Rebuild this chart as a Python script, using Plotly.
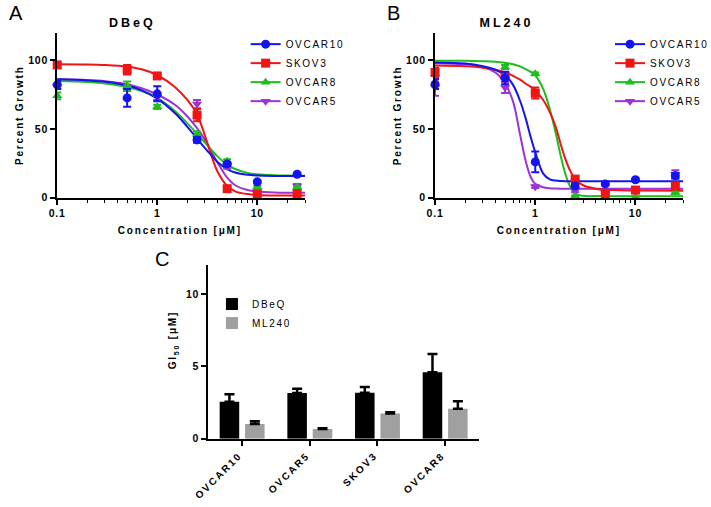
import plotly.graph_objects as go

FONT = "Liberation Sans, Arial, sans-serif"

# ---------------- data ----------------
cell_lines = ["OVCAR10", "SKOV3", "OVCAR8", "OVCAR5"]
colors = {"OVCAR10": "#1414F0", "SKOV3": "#F01414", "OVCAR8": "#1EBE1E", "OVCAR5": "#9B32DC"}
symbols = {"OVCAR10": "circle", "SKOV3": "square", "OVCAR8": "triangle-up", "OVCAR5": "triangle-down"}

conc = [0.1, 0.5, 1, 2.5, 5, 10, 25]

# Panel A (DBeQ) measured points (mean, sem)
dbeq_mean = {
    "OVCAR10": [82, 72.5, 75.5, 42, 24.5, 11.5, 17],
    "SKOV3":   [96.5, 93, 88.5, 60, 6.5, 2.5, 3],
    "OVCAR8":  [74, 81, 66, 46, 26.5, 7.5, 7.5],
    "OVCAR5":  [81, 80, 73, 68, 23, 5, 8.5],
}
dbeq_err = {
    "OVCAR10": [3, 6.5, 5.5, 2, 1.5, 1, 1],
    "SKOV3":   [2, 3.5, 1.5, 4.5, 1.5, 1, 1],
    "OVCAR8":  [2.5, 3.5, 1.5, 2, 1.5, 1, 1],
    "OVCAR5":  [2, 2, 2, 3, 2, 1, 1.5],
}
# Panel A fitted curves
fit_conc_A = [0.1, 0.2, 0.3, 0.5, 0.7, 1, 1.5, 2, 2.5, 3, 3.5, 4, 5, 6, 8, 10, 15, 20, 30]
dbeq_fit = {
    "OVCAR10": [86, 85.2, 84.3, 81.5, 78, 72, 61.5, 51.5, 43, 36, 30.5, 26, 20.8, 18.3, 16.6, 16.1, 15.8, 15.7, 15.7],
    "SKOV3":   [97, 96.8, 96.4, 95.2, 93.3, 89, 80.5, 71, 60.5, 45, 30, 19, 8.5, 4.6, 2.6, 2, 1.6, 1.5, 1.5],
    "OVCAR8":  [84.8, 84, 83, 80.5, 77.5, 72.5, 63, 54, 46.5, 40, 34.5, 30, 24, 20.8, 18, 17, 16.3, 16.1, 16],
    "OVCAR5":  [86, 85.5, 84.7, 82.5, 79.5, 75, 67.5, 59, 50.5, 42, 33, 25.5, 14.5, 9, 5.5, 4.5, 3.8, 3.6, 3.5],
}

# Panel B (ML240) measured points
ml240_mean = {
    "OVCAR10": [82.5, 87, 26, 8.5, 10, 13, 16],
    "SKOV3":   [91, 88.5, 76, 13.5, 2.5, 5.5, 8.5],
    "OVCAR8":  [90, 95, 90, 1, 0.5, 0.5, 3.5],
    "OVCAR5":  [80, 80, 8, 5, 3.5, 4.5, 17],
}
ml240_err = {
    "OVCAR10": [3.5, 4.5, 7.5, 1.5, 1, 1, 2],
    "SKOV3":   [3.5, 2, 4, 2, 1, 1.5, 1.5],
    "OVCAR8":  [1, 1.5, 1, 0.5, 0.5, 0.5, 0.5],
    "OVCAR5":  [6, 4, 1, 1, 1, 1, 3],
}
fit_conc_B = [0.1, 0.2, 0.3, 0.4, 0.5, 0.6, 0.7, 0.8, 0.9, 1, 1.2, 1.4, 1.6, 1.8, 2, 2.2, 2.5, 3, 4, 6, 10, 30]
ml240_fit = {
    "OVCAR10": [98.3, 97.5, 95.5, 93, 89, 82, 71, 58, 44, 33, 17.5, 13.3, 12.4, 12.1, 12, 12, 12, 12, 12, 12, 12, 12],
    "SKOV3":   [96, 95.5, 94.5, 93, 91, 88.5, 86, 83, 80.5, 78, 71, 62, 51.5, 38.5, 28, 20.5, 13.5, 9, 6.5, 5.5, 5.2, 5],
    "OVCAR8":  [99.6, 99.5, 99.2, 98.8, 98, 97, 95.5, 93.5, 91.5, 89, 79, 64, 47, 30, 17, 9, 3, 1.3, 1.1, 1, 1, 1],
    "OVCAR5":  [97.8, 97, 95, 91, 83, 70, 47, 27, 15, 10, 7.5, 6.8, 6.6, 6.5, 6.5, 6.5, 6.5, 6.5, 6.5, 6.5, 6.5, 6.5],
}

# Panel C GI50 values
gi_lines = ["OVCAR10", "OVCAR5", "SKOV3", "OVCAR8"]
gi_series = ["DBeQ", "ML240"]
gi_dbeq = [2.55, 3.15, 3.17, 4.58]
gi_dbeq_err = [0.52, 0.30, 0.40, 1.26]
gi_ml240 = [1.02, 0.68, 1.75, 2.07]
gi_ml240_err = [0.18, 0.05, 0.07, 0.52]

x_major = [0.1, 1, 10]
x_major_text = ["0.1", "1", "10"]
x_minor = [0.2, 0.3, 0.4, 0.5, 0.6, 0.7, 0.8, 0.9, 2, 3, 4, 5, 6, 7, 8, 9, 20, 30]

W, H = 711, 507
def px_x(p): return p / W
def px_y(p): return 1 - p / H

fig = go.Figure()

draw_order = ["OVCAR5", "OVCAR8", "SKOV3", "OVCAR10"]
panels = [("x", "y", "legend", "A", dbeq_mean, dbeq_err, fit_conc_A, dbeq_fit),
          ("x2", "y2", "legend2", "B", ml240_mean, ml240_err, fit_conc_B, ml240_fit)]

for xa, ya, lg, tag, means, errs, fconc, fits in panels:
    # legend entries (legend-only)
    for name in cell_lines:
        fig.add_trace(go.Scatter(x=[None], y=[None], mode="lines+markers", name=name,
                                 legendgroup=tag + name,
                                 line=dict(color=colors[name], width=2),
                                 marker=dict(symbol=symbols[name], color=colors[name], size=9),
                                 xaxis=xa, yaxis=ya, legend=lg, showlegend=True))
    for name in draw_order:
        fig.add_trace(go.Scatter(x=fconc, y=fits[name], mode="lines",
                                 line=dict(color=colors[name], width=2, shape="spline", smoothing=1.0),
                                 xaxis=xa, yaxis=ya, showlegend=False, hoverinfo="skip"))
    for name in draw_order:
        fig.add_trace(go.Scatter(x=conc, y=means[name], mode="markers",
                                 marker=dict(symbol=symbols[name], color=colors[name], size=9),
                                 error_y=dict(type="data", array=errs[name], color=colors[name],
                                              thickness=2, width=4),
                                 cliponaxis=False, xaxis=xa, yaxis=ya, showlegend=False))

fig.add_trace(go.Bar(x=gi_lines, y=gi_dbeq, name=gi_series[0], marker=dict(color="black", line=dict(width=0)),
                     error_y=dict(type="data", array=gi_dbeq_err, symmetric=False, arrayminus=[0]*4,
                                  color="black", thickness=2.5, width=5),
                     xaxis="x3", yaxis="y3", legend="legend3"))
fig.add_trace(go.Bar(x=gi_lines, y=gi_ml240, name=gi_series[1], marker=dict(color="#A0A0A0", line=dict(width=0)),
                     error_y=dict(type="data", array=gi_ml240_err, symmetric=False, arrayminus=[0]*4,
                                  color="black", thickness=2.5, width=5),
                     xaxis="x3", yaxis="y3", legend="legend3"))

tickfont = dict(family=FONT, size=10.5, color="black", weight="bold")
common_ax = dict(showline=True, linecolor="black", linewidth=2, ticks="outside", tickcolor="black",
                 tickwidth=1.5, ticklen=5, showgrid=False, zeroline=False, tickfont=tickfont)

def log_x(domain, anchor):
    return dict(common_ax, type="log", domain=domain, anchor=anchor, range=[-1, 1.4771],
                tickmode="array", tickvals=x_major, ticktext=x_major_text,
                minor=dict(tickmode="array", tickvals=x_minor, ticks="outside", ticklen=3,
                           tickwidth=1.2, tickcolor="black", showgrid=False))

def lin_y(domain, anchor, rng, vals):
    return dict(common_ax, domain=domain, anchor=anchor, range=rng, tickmode="array", tickvals=vals)

yA = [px_y(200), px_y(33)]
fig.update_layout(
    xaxis=log_x([px_x(50.7), px_x(301)], "y"),
    yaxis=lin_y(yA, "x", [0, 120], [0, 50, 100]),
    xaxis2=log_x([px_x(432.3), px_x(683)], "y2"),
    yaxis2=lin_y(yA, "x2", [0, 120], [0, 50, 100]),
    xaxis3=dict(common_ax, domain=[px_x(203.3), px_x(476.7)], anchor="y3", type="category",
                range=[-0.5, 3.5], tickangle=-45, ticklabelshift=-3,
                tickfont=dict(family=FONT, size=10, color="black", weight="bold")),
    yaxis3=lin_y([px_y(444), px_y(268)], "x3", [0, 12], [0, 5, 10]),
    barmode="group", bargap=0.25, bargroupgap=0.23,
)

legend_common = dict(xanchor="left", yanchor="top", bgcolor="rgba(0,0,0,0)", borderwidth=0,
                     font=dict(family=FONT, size=10, color="black"), itemwidth=30,
                     traceorder="normal")
fig.update_layout(
    legend=dict(legend_common, x=px_x(241), y=px_y(30), tracegroupgap=1),
    legend2=dict(legend_common, x=px_x(609), y=px_y(30), tracegroupgap=1),
    legend3=dict(legend_common, x=px_x(207), y=px_y(293), tracegroupgap=0),
)

def ann(text, x, y, size, bold=False, angle=0, xanchor="center", yanchor="middle"):
    return dict(text=text, x=px_x(x), y=px_y(y), xref="paper", yref="paper", showarrow=False,
                xanchor=xanchor, yanchor=yanchor, textangle=angle,
                font=dict(family=FONT, size=size, color="black", weight="bold" if bold else "normal"))

fig.update_layout(annotations=[
    ann("A", 0, 13, 20, xanchor="left"),
    ann("B", 382, 13, 20, xanchor="left"),
    ann("C", 147, 262, 20, xanchor="left"),
    ann("DBeQ", 127, 23, 12.5, bold=True),
    ann("ML240", 504, 23, 12.5, bold=True),
    ann("Percent Growth", 13, 117, 10, bold=True, angle=-90),
    ann("Percent Growth", 394, 117, 10, bold=True, angle=-90),
    ann("Concentration [μM]", 175, 233, 10, bold=True),
    ann("Concentration [μM]", 557, 233, 10, bold=True),
    ann("GI<sub>50</sub> [μM]", 168, 344, 10, bold=True, angle=-90),
])

fig.update_layout(width=W, height=H, margin=dict(l=0, r=0, t=0, b=0),
                  paper_bgcolor="white", plot_bgcolor="white", showlegend=True)

# Prism-style letter spacing (stylesheet + text-content based pass for legend entries)
post = """
document.body.style.margin = '0';
document.body.style.overflow = 'hidden';
var css = [
  '.xtick text, .ytick text, .x2tick text, .y2tick text, .y3tick text { letter-spacing: 0.8px; }',
  '.x3tick text { letter-spacing: 2px; }',
  'g.scrollbox { clip-path: none !important; }',
  '.annotation[data-index="3"] text, .annotation[data-index="4"] text { letter-spacing: 3px; }',
  '.annotation[data-index="5"] text, .annotation[data-index="6"] text, .annotation[data-index="7"] text, .annotation[data-index="8"] text, .annotation[data-index="9"] text { letter-spacing: 1.8px; }'
].join('\\n');
var st = document.createElement('style');
st.textContent = css;
document.head.appendChild(st);
var gd = document.getElementById('{plot_id}');
var names = ['OVCAR10', 'SKOV3', 'OVCAR8', 'OVCAR5', 'DBeQ', 'ML240'];
function fix(){
  document.querySelectorAll('svg text').forEach(function(t){
    if (names.indexOf(t.textContent) >= 0 && !t.closest('.annotation')) {
      t.style.letterSpacing = t.closest('.x3tick') ? '2px' : '1.7px';
    }
  });
  document.querySelectorAll('g.scrollbox, g.legend, g.legend2, g.legend3').forEach(function(g){
    g.removeAttribute('clip-path');
  });
}
fix();
new MutationObserver(fix).observe(gd, {childList: true, subtree: true});
setTimeout(fix, 50); setTimeout(fix, 300);
"""
fig.write_html("out.html", post_script=post, config={"displayModeBar": False})
